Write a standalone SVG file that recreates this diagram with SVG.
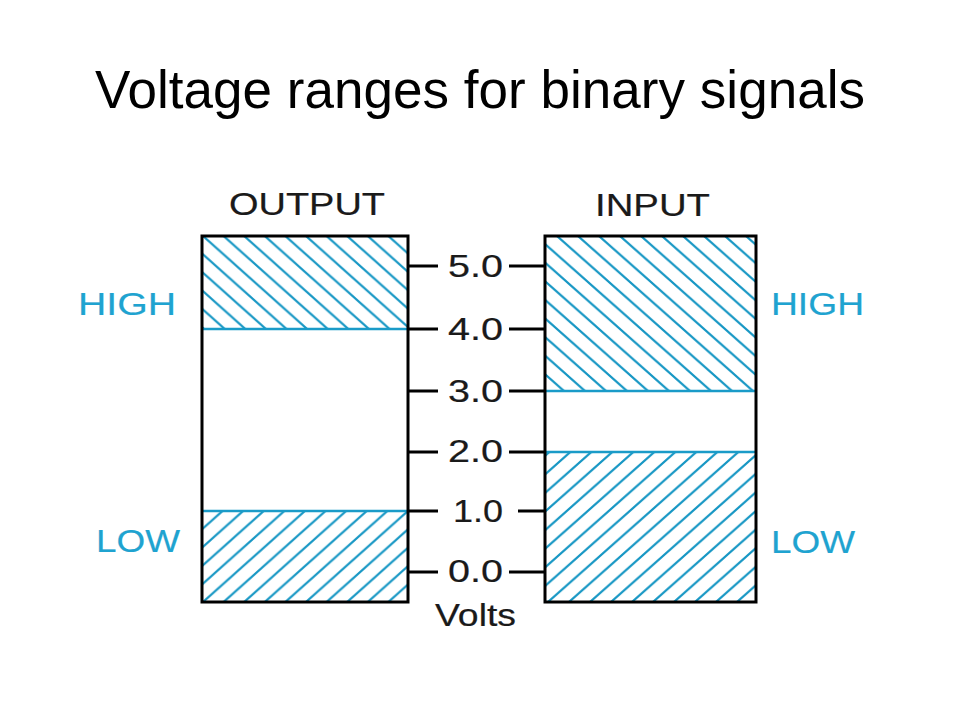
<svg xmlns="http://www.w3.org/2000/svg" width="960" height="720" viewBox="0 0 960 720">
  <style>
    .title { font-family: "Liberation Sans", Arial, sans-serif; font-size: 53px; fill: #000; }
    .lbl { font-family: "Liberation Sans", Arial, sans-serif; font-size: 31px; fill: #1a1a1a; stroke: #1a1a1a; stroke-width: 0.2; }
    .cy { font-family: "Liberation Sans", Arial, sans-serif; font-size: 32px; fill: #1fa3d0; stroke: #1fa3d0; stroke-width: 0.2; }
    .box { fill: none; stroke: #000; stroke-width: 3; }
    .tick { stroke: #000; stroke-width: 3; fill: none; }
    .bound { stroke: #1a9bc8; stroke-width: 2.5; }
  </style>
  <defs>
    <pattern id="hatchBack" patternUnits="userSpaceOnUse" x="203" y="236" width="20.6" height="18.4">
      <path d="M-20.6,-18.4 L41.2,36.8 M0,-18.4 L41.2,18.4 M-20.6,0 L20.6,36.8" stroke="#1797c4" stroke-width="2.2" fill="none"/>
    </pattern>
    <pattern id="hatchFwd" patternUnits="userSpaceOnUse" x="203" y="602" width="20.6" height="18.4">
      <path d="M-20.6,36.8 L41.2,-18.4 M-20.6,18.4 L20.6,-18.4 M0,36.8 L41.2,0" stroke="#1797c4" stroke-width="2.2" fill="none"/>
    </pattern>
    <pattern id="hatchBackIn" patternUnits="userSpaceOnUse" x="557" y="236" width="21" height="18.6">
      <path d="M-21,-18.6 L42,37.2 M0,-18.6 L42,18.6 M-21,0 L21,37.2" stroke="#1797c4" stroke-width="2.2" fill="none"/>
    </pattern>
    <pattern id="hatchFwdIn" patternUnits="userSpaceOnUse" x="548" y="602" width="21" height="18.6">
      <path d="M-21,37.2 L42,-18.6 M-21,18.6 L21,-18.6 M0,37.2 L42,0" stroke="#1797c4" stroke-width="2.2" fill="none"/>
    </pattern>
  </defs>

  <rect width="960" height="720" fill="#fff"/>

  <text class="title" x="95" y="108" textLength="770" lengthAdjust="spacing">Voltage ranges for binary signals</text>

  <g id="output">
    <rect x="202" y="236" width="206" height="93" fill="url(#hatchBack)"/>
    <rect x="202" y="511" width="206" height="91" fill="url(#hatchFwd)"/>
    <line class="bound" x1="202" y1="329" x2="408" y2="329"/>
    <line class="bound" x1="202" y1="511" x2="408" y2="511"/>
    <rect class="box" x="202" y="236" width="206" height="366"/>
    <text class="lbl" x="229" y="215" textLength="156" lengthAdjust="spacingAndGlyphs">OUTPUT</text>
    <text class="cy" x="78" y="315" textLength="98" lengthAdjust="spacingAndGlyphs">HIGH</text>
    <text class="cy" x="96" y="552" textLength="84" lengthAdjust="spacingAndGlyphs">LOW</text>
  </g>

  <g id="input">
    <rect x="545" y="236" width="211" height="155" fill="url(#hatchBackIn)"/>
    <rect x="545" y="452" width="211" height="150" fill="url(#hatchFwdIn)"/>
    <line class="bound" x1="545" y1="391" x2="756" y2="391"/>
    <line class="bound" x1="545" y1="452" x2="756" y2="452"/>
    <rect class="box" x="545" y="236" width="211" height="366"/>
    <text class="lbl" x="595" y="216" textLength="115" lengthAdjust="spacingAndGlyphs">INPUT</text>
    <text class="cy" x="771" y="315" textLength="93" lengthAdjust="spacingAndGlyphs">HIGH</text>
    <text class="cy" x="771" y="553" textLength="84" lengthAdjust="spacingAndGlyphs">LOW</text>
  </g>

  <g id="scale">
    <g class="tick">
      <path d="M408,266 H438 M509,266 H545"/>
      <path d="M408,329 H438 M509,329 H545"/>
      <path d="M408,391 H438 M509,391 H545"/>
      <path d="M408,452 H438 M509,452 H545"/>
      <path d="M408,511 H438 M518,511 H545"/>
      <path d="M408,572 H438 M509,572 H545"/>
    </g>
    <text class="lbl" x="448" y="277" textLength="55" lengthAdjust="spacingAndGlyphs">5.0</text>
    <text class="lbl" x="448" y="340" textLength="55" lengthAdjust="spacingAndGlyphs">4.0</text>
    <text class="lbl" x="448" y="402" textLength="55" lengthAdjust="spacingAndGlyphs">3.0</text>
    <text class="lbl" x="448" y="462" textLength="55" lengthAdjust="spacingAndGlyphs">2.0</text>
    <text class="lbl" x="453" y="522" textLength="50" lengthAdjust="spacingAndGlyphs">1.0</text>
    <text class="lbl" x="448" y="582" textLength="55" lengthAdjust="spacingAndGlyphs">0.0</text>
    <text class="lbl" x="435" y="626" textLength="81" lengthAdjust="spacingAndGlyphs">Volts</text>
  </g>
</svg>
